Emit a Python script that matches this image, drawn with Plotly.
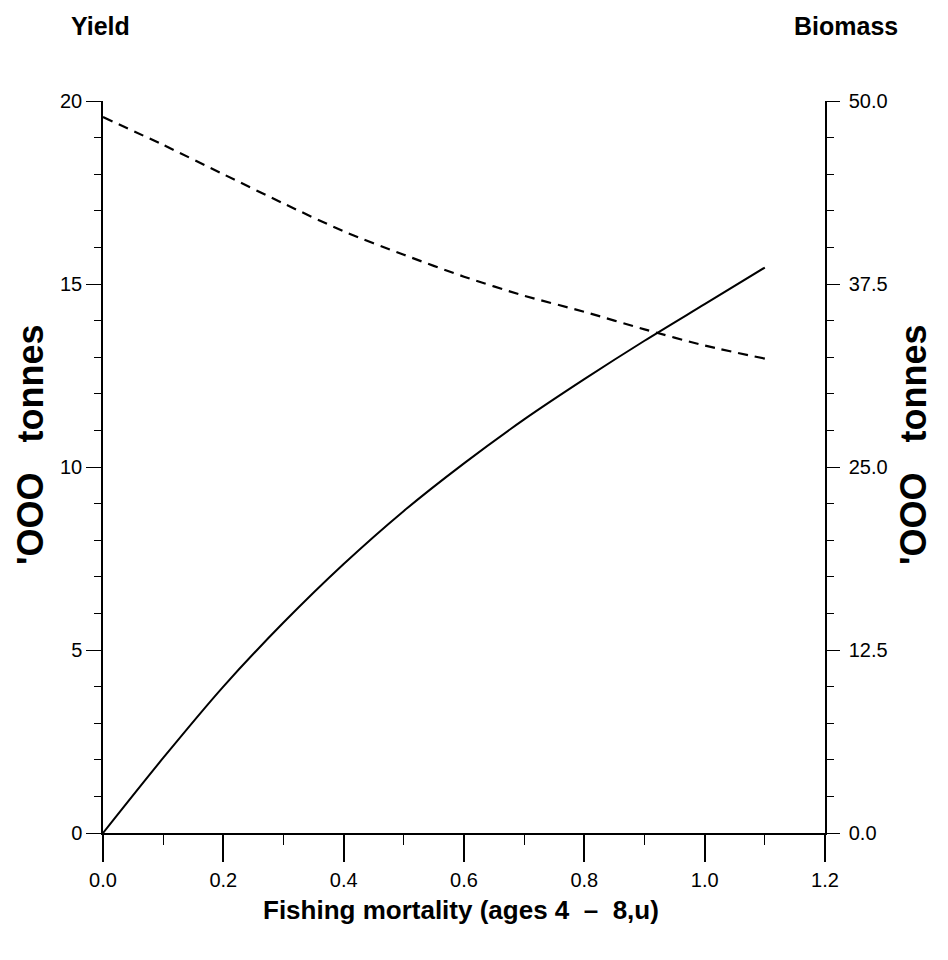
import plotly.graph_objects as go

# Data
fishing_mortality = [0.0, 0.1, 0.2, 0.3, 0.4, 0.5, 0.6, 0.7, 0.8, 0.9, 1.0, 1.1]
yield_kt = [0.0, 2.05, 4.0, 5.75, 7.35, 8.8, 10.1, 11.3, 12.4, 13.45, 14.45, 15.45]
biomass_kt = [48.9, 47.0, 45.0, 43.0, 41.1, 39.5, 38.0, 36.7, 35.6, 34.4, 33.3, 32.4]

x_ticks = [0.0, 0.2, 0.4, 0.6, 0.8, 1.0, 1.2]
x_tick_labels = ["0.0", "0.2", "0.4", "0.6", "0.8", "1.0", "1.2"]
y_ticks = [0, 5, 10, 15, 20]
y2_ticks = [0.0, 12.5, 25.0, 37.5, 50.0]
y2_tick_labels = ["0.0", "12.5", "25.0", "37.5", "50.0"]

W, H = 948, 960
L, R, T, B = 103, 123, 101, 127
PW, PH = W - L - R, H - T - B

def px(x):
    return (x - L) / PW

def py(y):
    return (H - B - y) / PH

SANS = "Liberation Sans, Arial, sans-serif"

fig = go.Figure()
fig.add_trace(go.Scatter(x=fishing_mortality, y=yield_kt, mode="lines",
                         line=dict(color="black", width=2, shape="spline", smoothing=0.8),
                         yaxis="y", showlegend=False, hoverinfo="skip"))
fig.add_trace(go.Scatter(x=fishing_mortality, y=biomass_kt, mode="lines",
                         line=dict(color="black", width=2.2, dash="10px,7px",
                                   shape="spline", smoothing=0.8),
                         yaxis="y2", showlegend=False, hoverinfo="skip"))

tick_font = dict(family=SANS, size=20, color="black")

fig.update_layout(
    width=W, height=H,
    margin=dict(l=L, r=R, t=T, b=B, pad=0),
    paper_bgcolor="white", plot_bgcolor="white",
    xaxis=dict(range=[0, 1.2], tickvals=x_ticks, ticktext=x_tick_labels,
               showgrid=False, zeroline=False, showline=True, linecolor="black",
               linewidth=1.5, ticks="outside", ticklen=27, tickwidth=1.5,
               tickcolor="black", ticklabelstandoff=1, tickfont=tick_font,
               minor=dict(dtick=0.1, ticks="outside", ticklen=10, tickwidth=1.2,
                          tickcolor="black", showgrid=False)),
    yaxis=dict(range=[0, 20], tickvals=y_ticks, showgrid=False, zeroline=False,
               showline=True, linecolor="black", linewidth=1.5, ticks="outside",
               ticklen=15, tickwidth=1.3, tickcolor="black", tickfont=tick_font,
               minor=dict(dtick=1, ticks="outside", ticklen=7, tickwidth=1.2,
                          tickcolor="black", showgrid=False)),
    yaxis2=dict(range=[0, 50], tickvals=y2_ticks, ticktext=y2_tick_labels,
                overlaying="y", side="right", showgrid=False, zeroline=False,
                showline=True, linecolor="black", linewidth=1.5, ticks="outside",
                ticklen=13, tickwidth=1.3, tickcolor="black", tickfont=tick_font,
                ticklabelstandoff=5,
                minor=dict(dtick=2.5, ticks="outside", ticklen=7, tickwidth=1.2,
                           tickcolor="black", showgrid=False)),
)

annots = [
    dict(text="<b>Yield</b>", x=px(100), y=py(26), font=dict(family=SANS, size=25)),
    dict(text="<b>Biomass</b>", x=px(846), y=py(26), font=dict(family=SANS, size=25)),
    dict(text="<b>Fishing mortality (ages 4\u00a0 \u2013\u00a0 8,u)</b>", x=px(461), y=py(910),
         font=dict(family=SANS, size=26)),
    dict(text="<b>'OOO\u00a0\u00a0 tonnes</b>", x=px(30), y=py(445), textangle=-90,
         font=dict(family=SANS, size=36)),
    dict(text="<b>'OOO\u00a0\u00a0 tonnes</b>", x=px(913), y=py(445), textangle=-90,
         font=dict(family=SANS, size=36)),
]
for a in annots:
    a.update(xref="paper", yref="paper", showarrow=False, xanchor="center",
             yanchor="middle")
    a["font"]["color"] = "black"
    fig.add_annotation(**a)

fig.write_html("out.html")
